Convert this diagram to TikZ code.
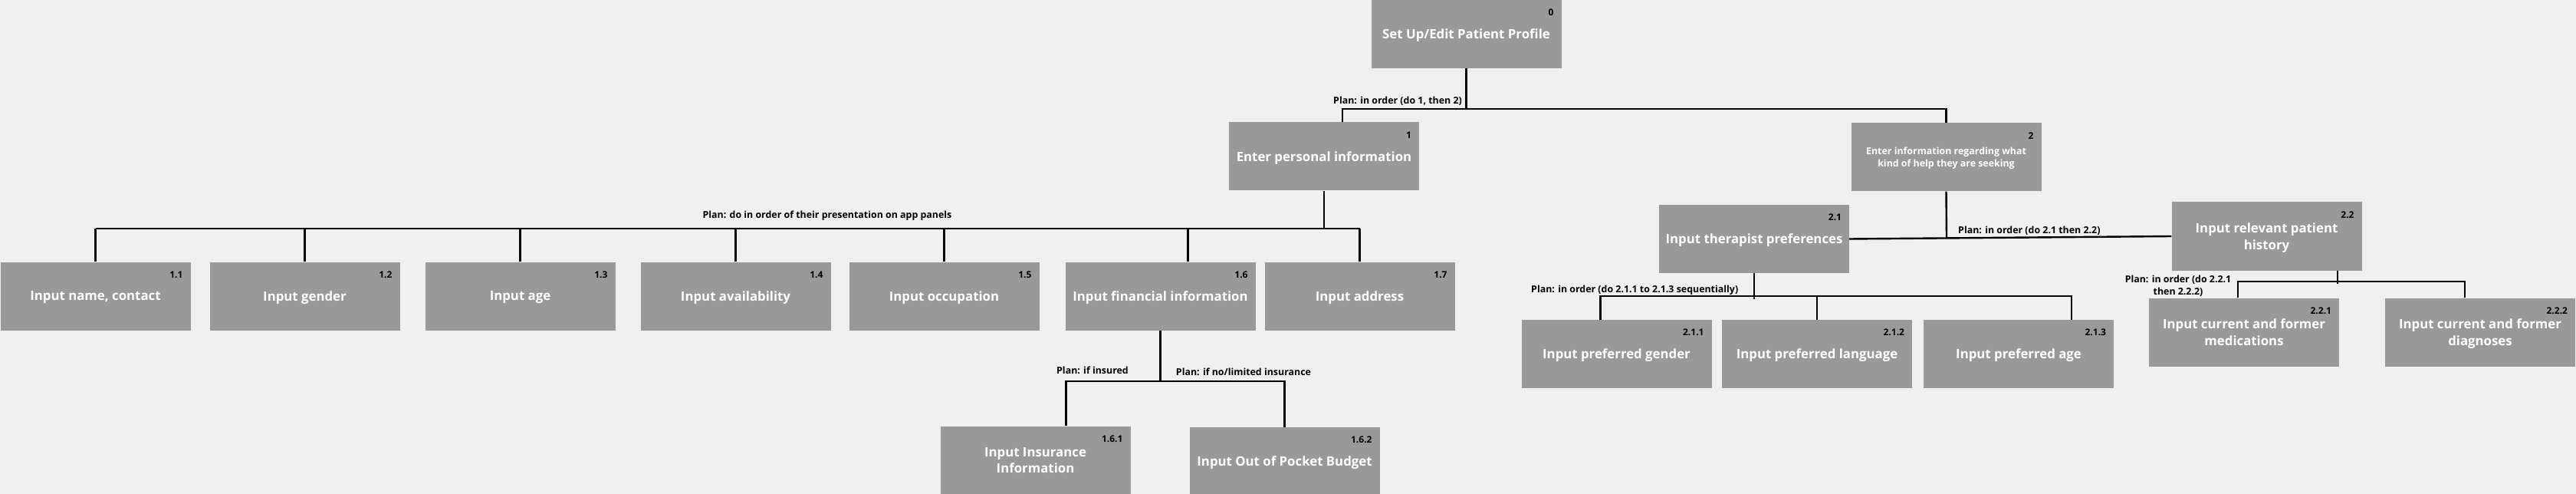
\documentclass[tikz,border=0pt]{standalone}
\usepackage{fontspec}
\setmainfont{Open Sans}
\usetikzlibrary{calc}
\definecolor{bgcol}{HTML}{F0F0F0}
\definecolor{boxcol}{HTML}{999999}
\tikzset{
	task/.style={fill=boxcol, text=white, font=\bfseries\fontsize{16.8}{21.5}\selectfont, minimum width=248pt, minimum height=89pt, inner sep=0pt, text depth=0pt, align=center},
	tasknum/.style={anchor=north east, font=\bfseries\fontsize{12}{14}\selectfont, text=black, inner sep=0pt, xshift=-10pt, yshift=-12pt},
	plan/.style={font=\bfseries\fontsize{12.4}{16}\selectfont, inner sep=0pt, align=center},
	link/.style={line width=2.4pt, black},
}

\begin{document}
\begin{tikzpicture}[x=1pt, y=-1pt]
	\def\W{3360}
	\def\H{644}
	\fill[bgcol] (0,0) rectangle (\W,\H);
	\useasboundingbox (0,0) rectangle (\W,\H);

	% level 0 and 1
	\node[task, label={[tasknum]north east:0}] (n0) at (1912.5,44.5) {Set Up/Edit Patient Profile};
	\node[task, label={[tasknum]north east:1}] (n1) at (1727,204) {Enter personal information};
	\node[task, font=\bfseries\fontsize{12.4}{16}\selectfont, label={[tasknum]north east:2}] (n2) at (2538.5,205) {Enter information regarding what\\kind of help they are seeking};

	% children of 1
	\node[task, label={[tasknum]north east:1.1}] (n11) at (124.5,386) {Input name, contact};
	\node[task, label={[tasknum]north east:1.2}] (n12) at (397.5,386) {Input gender};
	\node[task, label={[tasknum]north east:1.3}] (n13) at (678.5,386) {Input age};
	\node[task, label={[tasknum]north east:1.4}] (n14) at (959.5,386) {Input availability};
	\node[task, label={[tasknum]north east:1.5}] (n15) at (1231.5,386) {Input occupation};
	\node[task, label={[tasknum]north east:1.6}] (n16) at (1513.5,386) {Input financial information};
	\node[task, label={[tasknum]north east:1.7}] (n17) at (1773.5,386) {Input address};
	\node[task, label={[tasknum]north east:1.6.1}] (n161) at (1350.5,600) {Input Insurance\\Information};
	\node[task, label={[tasknum]north east:1.6.2}] (n162) at (1675.5,601.5) {Input Out of Pocket Budget};

	% children of 2
	\node[task, label={[tasknum]north east:2.1}] (n21) at (2288,311.5) {Input therapist preferences};
	\node[task, label={[tasknum]north east:2.2}] (n22) at (2956.5,308) {Input relevant patient\\history};
	\node[task, label={[tasknum]north east:2.1.1}] (n211) at (2108.5,461.5) {Input preferred gender};
	\node[task, label={[tasknum]north east:2.1.2}] (n212) at (2370,461.5) {Input preferred language};
	\node[task, label={[tasknum]north east:2.1.3}] (n213) at (2633,461.5) {Input preferred age};
	\node[task, label={[tasknum]north east:2.2.1}] (n221) at (2927,433) {Input current and former\\medications};
	\node[task, label={[tasknum]north east:2.2.2}] (n222) at (3235,433) {Input current and former\\diagnoses};

	% plans
	\coordinate (b0) at (1912.5,142);
	\draw[link] (n0.south) -- (b0);
	\draw[link] ([xshift=24pt]n1.north) |- (b0) -| (n2.north);
	\node[plan, anchor=west] (p0) at (1739,132) {Plan: in order (do 1, then 2)};

	\coordinate (b1) at (1727,298);
	\draw[link] (n1.south) -- (b1);
	\draw[link] (n11.north |- b1) -- (n17.north |- b1);
	\foreach \c in {n11,n12,n13,n14,n15,n17}
		\draw[link] (\c.north) -- (\c.north |- b1);
	\draw[link] ([xshift=36pt]n16.north) -- ([xshift=36pt]n16.north |- b1);
	\node[plan] (p1) at (1079,281) {Plan: do in order of their presentation on app panels};

	\coordinate (b16) at (1513.5,497);
	\draw[link] (n16.south) -- (b16);
	\draw[link] ([xshift=40pt]n161.north) |- (b16) -| (n162.north);
	\node[plan] (p161) at (1425,483) {Plan: if insured};
	\node[plan] (p162) at (1622,485) {Plan: if no/limited insurance};

	\draw[link] (n21.east) -- (n22.west);
	\draw[link] (n2.south) -- ($(n21.east)!(n2.south)!(n22.west)$);
	\node[plan, anchor=west] (p2) at (2554,301) {Plan: in order (do 2.1 then 2.2)};

	\coordinate (b21) at (2288,386);
	\draw[link] (n21.south) -- ([yshift=-4pt]b21);
	\draw[link] ([xshift=-21pt]n211.north) |- (b21) -| ([xshift=69pt]n213.north);
	\draw[link] (n212.north) -- (n212.north |- b21);
	\node[plan, anchor=west] (p21) at (1997,378) {Plan: in order (do 2.1.1 to 2.1.3 sequentially)};

	\coordinate (b22) at (3049,367);
	\draw[link] ([xshift=92.5pt]n22.south) -- ([yshift=-3pt]b22);
	\draw[link] ([xshift=-8pt]n221.north) |- (b22) -| ([xshift=-20pt]n222.north);
	\node[plan] (p22) at (2841,373) {Plan: in order (do 2.2.1\\then 2.2.2)};
\end{tikzpicture}
\end{document}
